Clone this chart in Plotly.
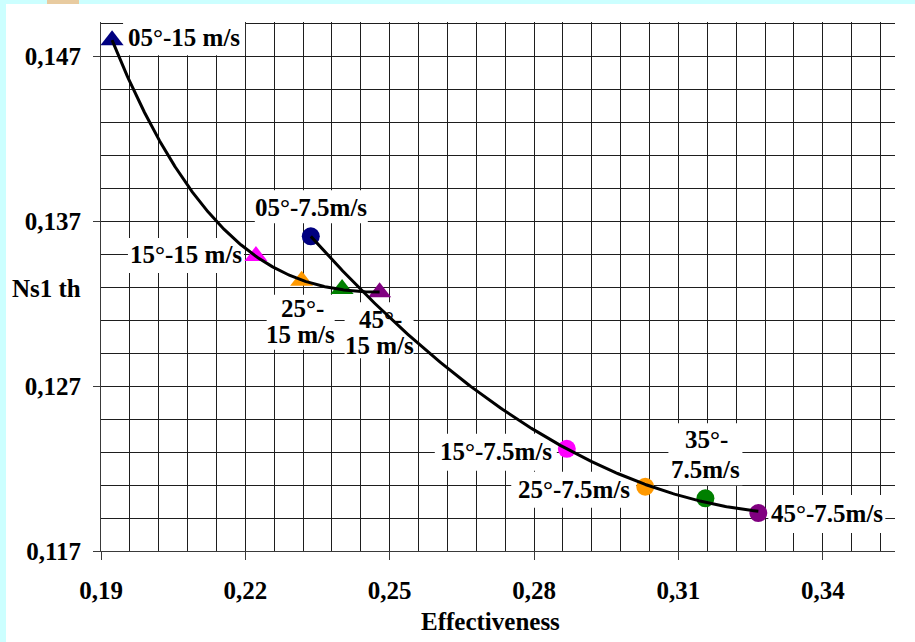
import numpy as np
import plotly.graph_objects as go

# ---------------- data ----------------
angles = ["05°", "15°", "25°", "35°", "45°"]
point_colors = ["#000080", "#FF00FF", "#FF9900", "#008000", "#800080"]

# wind speed 15 m/s (triangles)
eff_15 = [0.1923, 0.2222, 0.2317, 0.2401, 0.2479]
ns_15 = [0.1480, 0.1349, 0.1334, 0.1329, 0.1327]

# wind speed 7.5 m/s (circles)
eff_75 = [0.2336, 0.2868, 0.3031, 0.3156, 0.3266]
ns_75 = [0.1361, 0.1232, 0.1209, 0.1202, 0.1193]

x_ticks = [0.19, 0.22, 0.25, 0.28, 0.31, 0.34]
y_ticks = [0.117, 0.127, 0.137, 0.147]

# point labels: (series, index, text lines)
point_labels = [
    ("15", 0, ["05°-15 m/s"]),
    ("15", 1, ["15°-15 m/s"]),
    ("15", 2, ["25°-", "15 m/s"]),
    ("15", 4, ["45°-", "15 m/s"]),
    ("7.5", 0, ["05°-7.5m/s"]),
    ("7.5", 1, ["15°-7.5m/s"]),
    ("7.5", 2, ["25°-7.5m/s"]),
    ("7.5", 3, ["35°-", "7.5m/s"]),
    ("7.5", 4, ["45°-7.5m/s"]),
]

# ---------------- layout constants ----------------
W, H = 915, 642
ML, MR, MT, MB = 101, 20, 22, 91
PW, PH = W - ML - MR, H - MT - MB
X_RANGE = [0.19, 0.355]
Y_RANGE = [0.117, 0.149105]

FONT = "Liberation Serif, Times New Roman, serif"
FS = 25
GRID = "#1e1e1e"
AXIS = "#3a3a3a"

# label placement relative to its point, in pixels (right, up):
# offsets of each text line, and the white box (x0, x1, y0, y1) behind it
label_place = [
    dict(lines=[(71.6, 2.3)], box=(11, 133, -15, 21)),
    dict(lines=[(-69.5, 1.3)], box=(-128, -12, -17, 18)),
    dict(lines=[(0.4, -28.1), (-1.3, -53.9)], box=(-35, 33, -69, -14)),
    dict(lines=[(0.5, -27.6), (-0.5, -53.4)], box=(-35, 34, -66, -10)),
    dict(lines=[(0.3, 29.2)], box=(-56, 57, 13, 46)),
    dict(lines=[(-70.7, -2.7)], box=(-132, -10, -22, 15)),
    dict(lines=[(-71.3, -3.0)], box=(-134, -9, -21, 15)),
    dict(lines=[(0.8, 58.7), (0.0, 28.7)], box=(-37, 37, 13, 75)),
    dict(lines=[(68.4, -0.6)], box=(10, 127, -20, 18)),
]


def px_to_paper_x(px):
    return (px - ML) / PW


def px_to_paper_y(py):
    return (H - MB - py) / PH


fig = go.Figure()

series = {
    "15": (eff_15, ns_15, "triangle-up", 20),
    "7.5": (eff_75, ns_75, "circle", 18),
}

# markers
for name, (xs, ys, symbol, size) in series.items():
    fig.add_trace(go.Scatter(
        x=xs, y=ys, mode="markers",
        marker=dict(symbol=symbol, size=size, color=point_colors, line=dict(width=0)),
        text=[f"{a} - {name} m/s" for a in angles],
        hoverinfo="text", showlegend=False,
    ))

# polynomial trendlines through each series
for name, deg in (("15", 3), ("7.5", 2)):
    xs, ys = np.array(series[name][0]), np.array(series[name][1])
    coef = np.polyfit(xs, ys, deg)
    tx = np.linspace(xs.min(), xs.max(), 300)
    fig.add_trace(go.Scatter(
        x=tx, y=np.polyval(coef, tx), mode="lines",
        line=dict(color="black", width=3), hoverinfo="skip", showlegend=False,
    ))

# point labels with white boxes (boxes sit above the grid, below the curves)
annotations = []
shapes = []
for (name, idx, lines), place in zip(point_labels, label_place):
    px, py = series[name][0][idx], series[name][1][idx]
    bx0, bx1, by0, by1 = place["box"]
    shapes.append(dict(
        type="rect", xref="x", yref="y", xsizemode="pixel", ysizemode="pixel",
        xanchor=px, yanchor=py, x0=bx0, x1=bx1, y0=by0, y1=by1,
        fillcolor="white", line=dict(width=0), layer="between",
    ))
    for text, (dx, dy) in zip(lines, place["lines"]):
        annotations.append(dict(
            x=px, y=py, xref="x", yref="y", text=text, showarrow=False,
            xshift=dx, yshift=dy, xanchor="center", yanchor="middle",
            font=dict(family=FONT, size=FS, color="black", weight="bold"),
        ))

# axis titles
annotations.append(dict(
    x=px_to_paper_x(490), y=px_to_paper_y(621), xref="paper", yref="paper",
    text="Effectiveness", showarrow=False, xanchor="center", yanchor="middle",
    font=dict(family=FONT, size=FS, color="black", weight="bold"),
))
annotations.append(dict(
    x=px_to_paper_x(83), y=px_to_paper_y(289), xref="paper", yref="paper",
    text="Ns1 th", showarrow=False, xanchor="right", yanchor="middle",
    font=dict(family=FONT, size=FS, color="black", weight="bold"),
))

# page frame: cyan band on the left and top edge, tan tab at the top
cyan = "#CCFFFF"
shapes += [
    dict(type="rect", xref="paper", yref="paper",
         x0=px_to_paper_x(0), x1=px_to_paper_x(6), y0=px_to_paper_y(H), y1=px_to_paper_y(0),
         fillcolor=cyan, line=dict(width=0), layer="below"),
    dict(type="rect", xref="paper", yref="paper",
         x0=px_to_paper_x(0), x1=px_to_paper_x(W), y0=px_to_paper_y(4), y1=px_to_paper_y(0),
         fillcolor=cyan, line=dict(width=0), layer="below"),
    dict(type="rect", xref="paper", yref="paper",
         x0=px_to_paper_x(47), x1=px_to_paper_x(79), y0=px_to_paper_y(4), y1=px_to_paper_y(0),
         fillcolor="#E8CBA0", line=dict(width=0), layer="below"),
]

tick_font = dict(family=FONT, size=FS, color="black", weight="bold")

fig.update_layout(
    width=W, height=H,
    margin=dict(l=ML, r=MR, t=MT, b=MB, pad=0),
    paper_bgcolor="white", plot_bgcolor="white",
    separators=",.",
    showlegend=False,
    annotations=annotations,
    shapes=shapes,
    xaxis=dict(
        range=X_RANGE, tickmode="array", tickvals=x_ticks, tickformat=".2f",
        tickfont=tick_font, ticks="outside", ticklen=8, tickcolor=AXIS, tickwidth=1,
        ticklabelstandoff=9,
        showgrid=True, gridcolor=GRID, gridwidth=1,
        minor=dict(tick0=0.19, dtick=0.006, showgrid=True, gridcolor=GRID, gridwidth=1, ticks=""),
        showline=True, linecolor=AXIS, linewidth=1, zeroline=False, fixedrange=True,
    ),
    yaxis=dict(
        range=Y_RANGE, tickmode="array", tickvals=y_ticks, tickformat=".3f",
        tickfont=tick_font, ticks="outside", ticklen=7, tickcolor=AXIS, tickwidth=1,
        ticklabelstandoff=7,
        showgrid=True, gridcolor=GRID, gridwidth=1,
        minor=dict(tick0=0.117, dtick=0.002, showgrid=True, gridcolor=GRID, gridwidth=1, ticks=""),
        showline=True, linecolor=AXIS, linewidth=1, zeroline=False, fixedrange=True,
    ),
)

fig.write_html("out.html")
